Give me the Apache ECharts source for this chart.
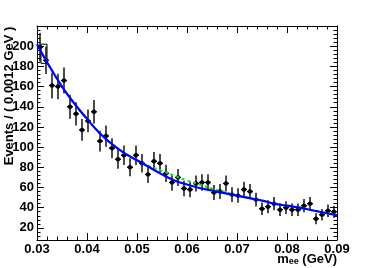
<!DOCTYPE html>
<html><head><meta charset="utf-8">
<script src="https://cdn.jsdelivr.net/npm/echarts@6/dist/echarts.min.js"></script>
<style>html,body{margin:0;padding:0;background:#fff}#c{width:374px;height:268px}</style>
</head><body><div id="c"></div>
<script>
// Binning of the data histogram
const binStart = 0.03;
const binWidth = 0.0012;
// Events per bin
const counts = [199,186,161,160,166,140,133,117,126,135,
                106,111,99,88,92,80,92,84,73,86,
                84,74,65,70,59,58,64,65,65,55,
                56,64,53,52,58,56,48,39,41,44,
                38,40,38,38,42,44,29,33,37,36];
// Error bar half-lengths
const countErrors = [14.1,13.6,12.7,12.6,12.9,11.8,11.5,10.8,11.2,11.6,
                     10.3,10.5,9.9,9.4,9.6,8.9,9.6,9.2,8.5,9.3,
                     9.2,8.6,8.1,8.4,7.7,7.6,8.0,8.1,8.1,7.4,
                     7.5,8.0,7.3,7.2,7.6,7.5,6.9,6.2,6.4,6.6,
                     6.2,6.3,6.2,6.2,6.5,6.6,5.4,5.7,6.1,6.0];
// Fit curves sampled at these masses
const fitX = [0.0300,0.0325,0.0350,0.0375,0.0400,0.0425,0.0450,0.0475,0.0500,0.0525,
              0.0550,0.0575,0.0600,0.0625,0.0650,0.0675,0.0700,0.0725,0.0750,0.0775,
              0.0800,0.0825,0.0850,0.0875,0.0900];
const fitTotal = [202,180,160,143,128,114,103,94,87,80,
                  73,67,63,59.5,57,54.5,52,49.5,47,44,
                  42,40,37.5,35,32.5];
const fitBkg = [202,180,160,143,128,114,103,94,87,81,
                76.5,71.5,67,63,59,55.5,52,49.5,47,44,
                42,40,37.5,35,32.5];
// Small outlined box near the first bin: [xLow, xHigh, yLow, yHigh]
const firstBinBox = [0.0308, 0.0320, 183, 202];
// Axis ranges and tick labels
const xRange = [0.03, 0.09];
const yRange = [8, 220];
const yLabelValues = [20,40,60,80,100,120,140,160,180,200];

const dataPoints = counts.map((n, i) => {
  const lo = binStart + i * binWidth, hi = lo + binWidth;
  return [(lo + hi) / 2, n, countErrors[i], lo, hi];
});
const totalLine = fitX.map((x, i) => [x, fitTotal[i]]);
const bkgLine = fitX.map((x, i) => [x, fitBkg[i]]);

const FONT = '"Liberation Sans", Arial, sans-serif';
const black = '#000';

function xAxisDef(pos, showLabel) {
  return {
    type: 'value', position: pos, min: xRange[0], max: xRange[1], interval: 0.01,
    axisLine: { show: true, onZero: false, lineStyle: { color: black, width: 1 } },
    axisTick: { show: true, inside: true, length: 7, lineStyle: { color: black, width: 1 } },
    minorTick: { show: true, splitNumber: 5, length: 3.5, lineStyle: { color: black, width: 1 } },
    axisLabel: { show: showLabel, margin: 3, color: black, fontSize: 13, fontWeight: 'bold', fontFamily: FONT,
                 formatter: v => v.toFixed(2) },
    splitLine: { show: false }, minorSplitLine: { show: false }
  };
}
function yAxisMajor(pos, showLabel) {
  return {
    type: 'value', position: pos, min: yRange[0], max: yRange[1],
    axisLine: { show: true, onZero: false, lineStyle: { color: black, width: 1 } },
    axisTick: { show: true, inside: true, length: 7, customValues: yLabelValues, lineStyle: { color: black, width: 1 } },
    axisLabel: { show: showLabel, margin: 3, color: black, fontSize: 13, fontWeight: 'bold', fontFamily: FONT,
                 customValues: yLabelValues },
    splitLine: { show: false }
  };
}
function yAxisMinor(pos) {
  return {
    type: 'value', position: pos, min: yRange[0], max: yRange[1], interval: 4,
    axisLine: { show: false, onZero: false },
    axisTick: { show: true, inside: true, length: 3.5, lineStyle: { color: black, width: 1 } },
    axisLabel: { show: false },
    splitLine: { show: false }
  };
}

const chart = echarts.init(document.getElementById('c'), null, { renderer: 'canvas' });
chart.setOption({
  animation: false,
  backgroundColor: '#fff',
  grid: { left: 37, right: 37, top: 26, bottom: 28, containLabel: false },
  xAxis: [xAxisDef('bottom', true), xAxisDef('top', false)],
  yAxis: [yAxisMajor('left', true), yAxisMinor('left'), yAxisMajor('right', false), yAxisMinor('right')],
  series: [
    {
      type: 'custom', xAxisIndex: 0, yAxisIndex: 0, z: 2,
      data: dataPoints,
      renderItem: function (params, api) {
        const x = api.value(0), y = api.value(1), e = api.value(2), lo = api.value(3), hi = api.value(4);
        const c = api.coord([x, y]);
        const t = api.coord([x, y + e]);
        const b = api.coord([x, y - e]);
        const l = api.coord([lo, y]);
        const r = api.coord([hi, y]);
        return { type: 'group', children: [
          { type: 'line', shape: { x1: t[0], y1: t[1], x2: b[0], y2: b[1] }, style: { stroke: black, lineWidth: 1.4 } },
          { type: 'line', shape: { x1: l[0], y1: l[1], x2: r[0], y2: r[1] }, style: { stroke: black, lineWidth: 1.4 } },
          { type: 'circle', shape: { cx: c[0], cy: c[1], r: 2.2 }, style: { fill: black } }
        ]};
      },
      markArea: {
        silent: true,
        itemStyle: { color: 'rgba(0,0,0,0)', borderColor: black, borderWidth: 1 },
        data: [[{ coord: [firstBinBox[0], firstBinBox[3]] }, { coord: [firstBinBox[1], firstBinBox[2]] }]]
      }
    },
    {
      type: 'line', xAxisIndex: 0, yAxisIndex: 0, z: 3, data: bkgLine, smooth: 0.4,
      showSymbol: false, symbol: 'none',
      lineStyle: { color: '#11e011', width: 2, type: [3, 3] }
    },
    {
      type: 'line', xAxisIndex: 0, yAxisIndex: 0, z: 4, data: totalLine, smooth: 0.4,
      showSymbol: false, symbol: 'none',
      lineStyle: { color: '#0000ff', width: 2.2 }
    }
  ],
  graphic: [
    { type: 'text', x: 9.5, y: 96, rotation: Math.PI / 2,
      style: { text: 'Events / ( 0.0012 GeV )', font: 'bold 13px ' + FONT, fill: black,
               textAlign: 'center', textVerticalAlign: 'middle' } },
    { type: 'text', x: 337, y: 259,
      style: { text: '{m|m}{s|ee}{m| (GeV)}', fill: black, textAlign: 'right', textVerticalAlign: 'middle',
               rich: { m: { fontSize: 13, fontWeight: 'bold', fontFamily: FONT, fill: black },
                       s: { fontSize: 9, fontWeight: 'bold', fontFamily: FONT, fill: black, padding: [6, 0, 0, 0] } } } }
  ]
});
</script></body></html>
